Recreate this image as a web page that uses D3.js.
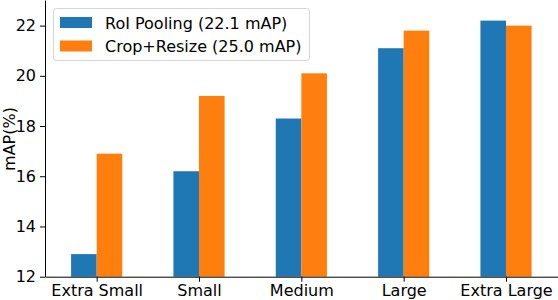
<!DOCTYPE html>
<html>
<head>
<meta charset="utf-8">
<script src="https://cdn.jsdelivr.net/npm/d3@7"></script>
<style>
  body { margin: 0; background: #fff; }
  text { font-family: "DejaVu Sans", sans-serif; fill: #000; }
</style>
</head>
<body>
<script>
const categories = ['Extra Small', 'Small', 'Medium', 'Large', 'Extra Large'];
const seriesNames = ['RoI Pooling (22.1 mAP)', 'Crop+Resize (25.0 mAP)'];
const roiPooling = [12.9, 16.2, 18.3, 21.1, 22.2];
const cropResize = [16.9, 19.2, 20.1, 21.8, 22.0];
const yTicks = [12, 14, 16, 18, 20, 22];
const colors = ['#1f77b4', '#ff7f0e'];

const width = 558;
const height = 300;
const left = 45;
const bottom = 276.7;

const svg = d3.select('body')
    .append('svg')
    .attr('width', width)
    .attr('height', height);

const xScale = d3.scaleLinear()
    .domain([-0.505, 4.508])
    .range([left, width]);

const yScale = d3.scaleLinear()
    .domain([12, 23.02])
    .range([bottom, 0]);

const barW = 0.25;
const series = [roiPooling, cropResize];

series.forEach((vals, s) => {
    svg.append('g')
        .selectAll('rect')
        .data(vals)
        .enter()
        .append('rect')
        .attr('x', (d, i) => xScale(i + (s === 0 ? -barW : 0)))
        .attr('width', xScale(barW) - xScale(0))
        .attr('y', (d) => yScale(d))
        .attr('height', (d) => bottom - yScale(d))
        .style('fill', colors[s]);
});

const yAxis = d3.axisLeft(yScale)
    .tickValues(yTicks)
    .tickSize(5)
    .tickPadding(4)
    .tickSizeOuter(0);

const xAxis = d3.axisBottom(xScale)
    .tickValues(d3.range(categories.length))
    .tickFormat((d) => categories[d])
    .tickSize(5)
    .tickPadding(3)
    .tickSizeOuter(0);

const gy = svg.append('g')
    .attr('transform', 'translate(' + left + ',0)')
    .call(yAxis);

const gx = svg.append('g')
    .attr('transform', 'translate(0,' + bottom + ')')
    .call(xAxis);

[gx, gy].forEach((g) => {
    g.selectAll('text').style('font-size', '16px').style('font-family', '"DejaVu Sans", sans-serif');
    g.selectAll('line, path').attr('stroke', '#000').attr('stroke-width', 1);
});

svg.append('text')
    .attr('transform', 'translate(14.5,139) rotate(-90)')
    .attr('text-anchor', 'middle')
    .style('font-size', '16px')
    .text('mAP(%)');

// legend
const legend = svg.append('g');
legend.append('rect')
    .attr('x', 53.5)
    .attr('y', 8.5)
    .attr('width', 256)
    .attr('height', 52)
    .attr('rx', 3)
    .style('fill', 'rgba(255,255,255,0.8)')
    .style('stroke', '#d5d5d5');

seriesNames.forEach((name, i) => {
    const cy = 22.5 + i * 23.5;
    legend.append('rect')
        .attr('x', 60)
        .attr('y', cy - 5.5)
        .attr('width', 32)
        .attr('height', 11)
        .style('fill', colors[i]);
    legend.append('text')
        .attr('x', 105)
        .attr('y', cy + 6)
        .style('font-size', '16px')
        .text(name);
});
</script>
</body>
</html>
